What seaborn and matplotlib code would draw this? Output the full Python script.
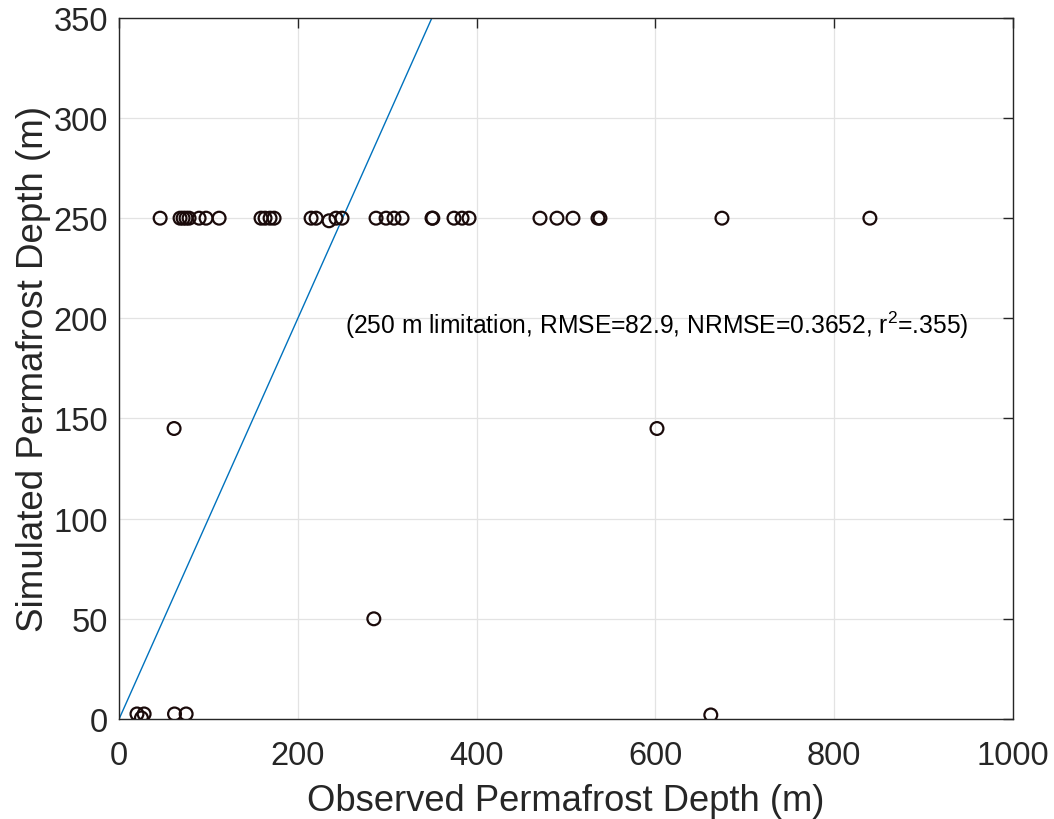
import matplotlib
matplotlib.use("Agg")
import matplotlib.pyplot as plt
import seaborn as sns
import pandas as pd

observed = [45.9, 68.2, 71.6, 74.9, 78.3, 89.5, 97.3, 111.9, 158.8, 163.3, 168.9, 173.4,
            214.8, 220.4, 234.9, 242.7, 249.4, 287.5, 298.7, 307.6, 316.6, 350.1, 351.0,
            374.7, 383.7, 391.5, 470.9, 489.9, 507.8, 535.8, 538.0, 674.5, 840.0,
            61.5, 601.8, 285.0, 662.0, 20.0, 28.0, 25.0, 62.0, 75.0]
simulated = [250, 250, 250, 250, 250, 250, 250, 250, 250, 250, 250, 250,
             250, 250, 248.7, 250, 250, 250, 250, 250, 250, 250, 250,
             250, 250, 250, 250, 250, 250, 250, 250, 250, 250,
             145, 145, 50, 2, 2.5, 2.5, 0.5, 2.5, 2.5]
line_x = [0, 350]
line_y = [0, 350]
x_ticks = [0, 200, 400, 600, 800, 1000]
y_ticks = [0, 50, 100, 150, 200, 250, 300, 350]
annotation = "(250 m limitation, RMSE=82.9, NRMSE=0.3652, r$^2$=.355)"

sns.set_style("white")
plt.rcParams['font.family'] = ['Liberation Sans', 'DejaVu Sans']
plt.rcParams['mathtext.fontset'] = 'custom'
plt.rcParams['mathtext.rm'] = 'Liberation Sans'

df = pd.DataFrame({"obs": observed, "sim": simulated})

fig = plt.figure(figsize=(10.54, 8.20), dpi=100)
ax = fig.add_axes([0.113, 0.122, 0.848, 0.855])

ax.plot(line_x, line_y, color="#0072BD", linewidth=1.0, zorder=2)
sns.scatterplot(data=df, x="obs", y="sim", ax=ax, marker="o", s=85,
                facecolors="none", edgecolor="#1a0a0a", linewidth=1.6, zorder=3)

ax.set_xlim(0, 1000)
ax.set_ylim(0, 350)
ax.set_xticks(x_ticks)
ax.set_yticks(y_ticks)
ax.grid(True, color="#e3e3e3", linewidth=0.9)
ax.set_axisbelow(True)
for s in ax.spines.values():
    s.set_color("#262626")
    s.set_linewidth(1.0)
ax.tick_params(axis="both", direction="in", length=7, width=1.0, labelsize=23.5,
               top=True, right=True, colors="#262626", labelcolor="#262626")
ax.tick_params(axis="x", pad=15)
ax.tick_params(axis="y", pad=8)
ax.set_xlabel("Observed Permafrost Depth (m)", fontsize=26.2, color="#262626", labelpad=9)
ax.set_ylabel("Simulated Permafrost Depth (m)", fontsize=26.5, color="#262626", labelpad=2)

ax.text(601, 197, annotation, fontsize=17.7, ha="center", va="center", color="black")

fig.savefig("out.png", dpi=100)
